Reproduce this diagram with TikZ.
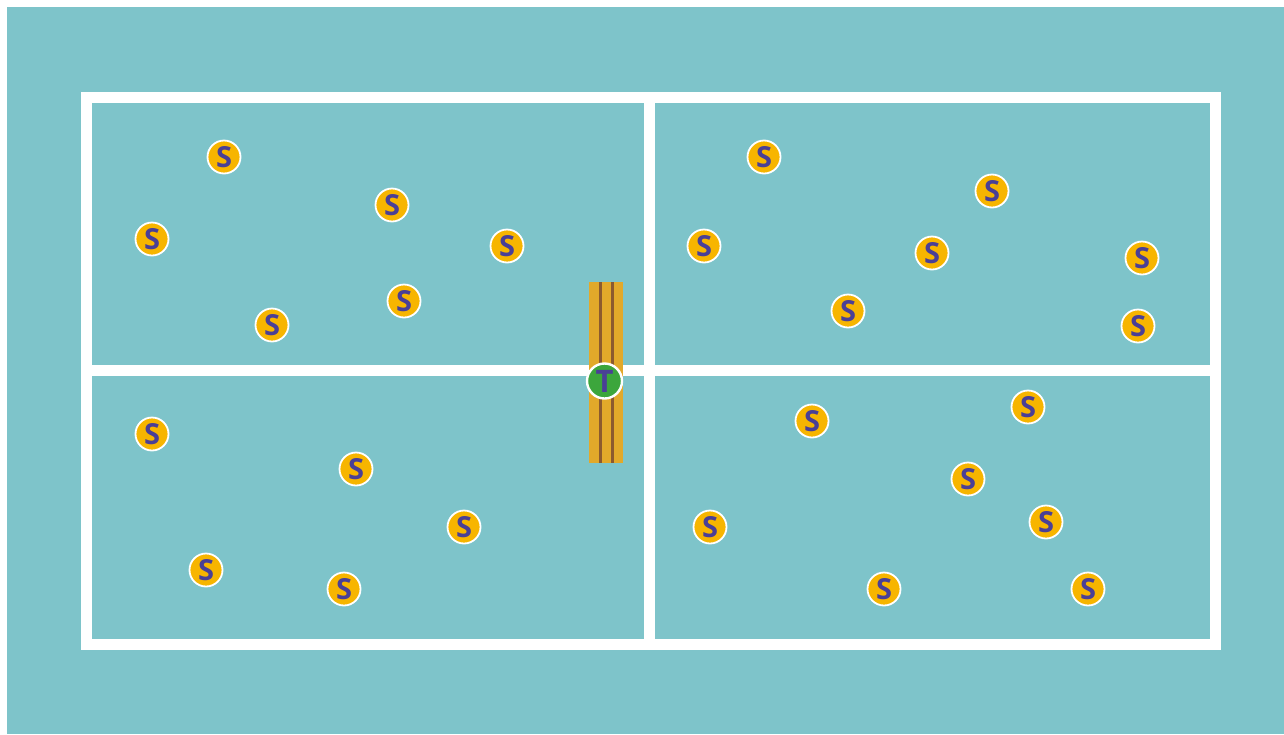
\documentclass[tikz,border=0pt]{standalone}
\usepackage{fontspec}
\setmainfont{Open Sans}
\definecolor{bg}{HTML}{7EC4CA}
\definecolor{syel}{HTML}{F7B500}
\definecolor{spur}{HTML}{4A3F96}
\definecolor{netyel}{HTML}{E2A92A}
\definecolor{netbrn}{HTML}{8C5A2E}
\definecolor{tgrn}{HTML}{3CA63C}
\tikzset{
  player/.style={circle, fill=syel, draw=white, line width=1.8pt, minimum size=33pt, inner sep=0pt,
    text=spur, font=\fontsize{29}{29}\selectfont\bfseries},
  teacher/.style={player, fill=tgrn, minimum size=35pt, line width=2.4pt, font=\fontsize{31}{31}\selectfont\bfseries},
  courtline/.style={white, line width=11pt},
}
\begin{document}
\begin{tikzpicture}[x=1pt,y=-1pt]
\useasboundingbox (0,0) rectangle (1284,734);
\fill[white] (0,0) rectangle (1284,734);
\fill[bg] (7,7) rectangle (1284,734);
% court
\coordinate (tl) at (86.5,97.5);
\coordinate (br) at (1215.5,644.5);
\draw[courtline] (tl) rectangle (br);
\draw[courtline] (649.5,97.5) -- (649.5,644.5);
\draw[courtline] (86.5,370.5) -- (1215.5,370.5);
% net
\fill[netyel] (589,282) rectangle (623,463);
\draw[netbrn, line width=3pt] (600.5,282) -- (600.5,463);
\draw[netbrn, line width=3pt] (612.5,282) -- (612.5,463);
\node[teacher] (t) at (604.5,381) {T};
% students
\foreach \n/\x/\y in {a1/224/157, a2/392/205, a3/152/239, a4/507/246, a5/404/301, a6/272/325,
  b1/764/157, b2/992/191, b3/704/246, b4/932/253, b5/1142/258, b6/848/311, b7/1138/326,
  c1/152/434, c2/356/469, c3/464/527, c4/206/570, c5/344/589,
  d1/1028/407, d2/812/421, d3/968/479, d4/1046/522, d5/710/527, d6/884/589, d7/1088/589}
  \node[player] (\n) at (\x,\y) {S};
\end{tikzpicture}
\end{document}
